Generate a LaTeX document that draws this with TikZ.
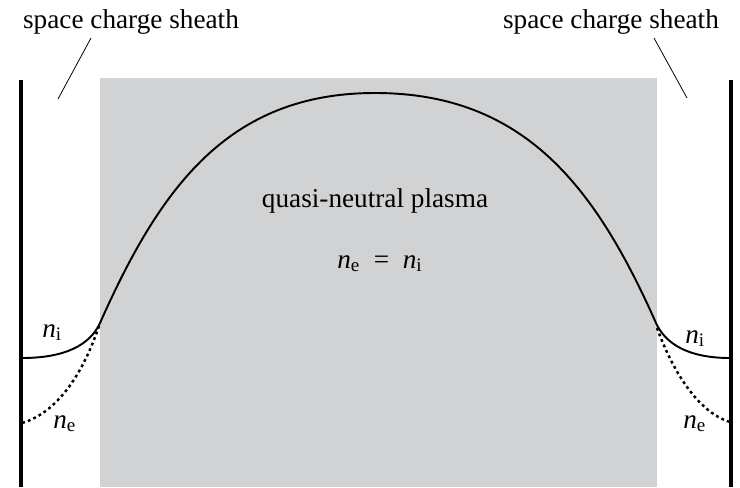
\documentclass[tikz,border=0pt]{standalone}
\usepackage{fontspec}
\setmainfont{Liberation Serif}
\usetikzlibrary{positioning}
\definecolor{plasmagray}{HTML}{D1D2D4}
\newcommand{\dens}[1]{{\itshape n}\textsubscript{#1}}

\begin{document}
\begin{tikzpicture}[
    x=0.02cm, y=-0.02cm,
    font=\fontsize{15.5}{18}\selectfont,
    wall/.style={line width=2.3pt},
    leader/.style={line width=0.45pt},
    ion/.style={line width=1.1pt},
    elec/.style={line width=1.4pt,dash pattern=on 1.6pt off 1.8pt},
    lbl/.style={inner sep=0pt}
  ]
    \useasboundingbox (0,0) rectangle (740,487);
    % plasma region
    \fill[plasmagray] (100,78) rectangle (657,487);
    % walls
    \draw[wall] (21,80) -- (21,487);
    \draw[wall] (731,80) -- (731,487);
    % labels
    \node[lbl,anchor=base] (shl) at (131,28) {space charge sheath};
    \node[lbl,anchor=base] (shr) at (611,28) {space charge sheath};
    \node[lbl,anchor=base] (qnp) at (375,207) {quasi-neutral plasma};
    \node[lbl,anchor=base] (eq) at (380,268) {\dens{e}\ \ =\ \ \dens{i}};
    \node[lbl,anchor=base west] (nil) at (42,337) {\dens{i}};
    \node[lbl,anchor=base west] (nel) at (53,428) {\dens{e}};
    \node[lbl,anchor=base west] (nir) at (685,343) {\dens{i}};
    \node[lbl,anchor=base west] (ner) at (683,428) {\dens{e}};
    % leader lines
    \coordinate (shlA) at (91,38);
    \coordinate (shlB) at (58,99);
    \coordinate (shrA) at (654,38);
    \coordinate (shrB) at (687,98);
    \draw[leader] (shlA) -- (shlB);
    \draw[leader] (shrA) -- (shrB);
    % ion density
    \coordinate (wl) at (22,358);
    \coordinate (el) at (100,323);
    \coordinate (top) at (375,93);
    \coordinate (er) at (656,323);
    \coordinate (wr) at (730,358);
    \draw[ion] (wl) .. controls (65,358) and (90,345) .. (el)
      .. controls (160,188) and (228,93) .. (top)
      .. controls (525,93) and (596,188) .. (er)
      .. controls (666,345) and (690,358) .. (wr);
    % electron density
    \draw[elec] (99,326) .. controls (85,368) and (60,412) .. (22,423);
    \draw[elec] (657,328) .. controls (672,369) and (697,412) .. (730,422);
  \end{tikzpicture}
\end{document}
